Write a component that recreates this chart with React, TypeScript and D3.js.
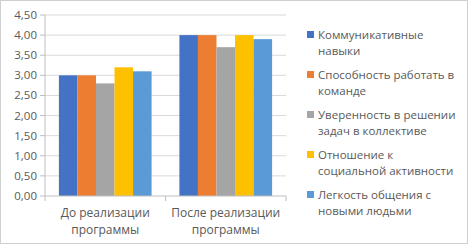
import React from "react";
import * as d3 from "d3";

const categories = [["До реализации", "программы"], ["После реализации", "программы"]];
const seriesNames = [
  ["Коммуникативные", "навыки"],
  ["Способность работать в", "команде"],
  ["Уверенность в решении", "задач в коллективе"],
  ["Отношение к", "социальной активности"],
  ["Легкость общения с", "новыми людьми"],
];
const seriesValues = [
  [3.0, 4.0],
  [3.0, 4.0],
  [2.8, 3.7],
  [3.2, 4.0],
  [3.1, 3.9],
];
const colors = ["#4472C4", "#ED7D31", "#A5A5A5", "#FFC000", "#5B9BD5"];
const yTicks = [0, 0.5, 1, 1.5, 2, 2.5, 3, 3.5, 4, 4.5];

const W = 470, H = 246;
const left = 45, right = 286, top = 15, bottom = 196;
const font = "'Open Sans', sans-serif";
const textColor = "#595959";

export default function App() {
  const y = d3.scaleLinear().domain([0, 4.5]).range([bottom, top]);
  const x0 = d3.scaleBand().domain(categories.map((_, i) => String(i))).range([left, right]);
  const bw = x0.bandwidth();
  const barW = bw / (5 + 1.5);
  const x1 = d3.scaleBand().domain(seriesNames.map((_, i) => String(i))).range([0.75 * barW, bw - 0.75 * barW]);
  const fmt = (v: number) => v.toFixed(2).replace(".", ",");
  return (
    <svg width={W} height={H} style={{ position: "absolute", left: 0, top: 0 }}>
      <rect x={0.5} y={0.5} width={467} height={243} fill="#fff" stroke="#d0d0d0" />
      {yTicks.map((t) => (
        <g key={t}>
          {t > 0 && <line x1={left} x2={right} y1={y(t)} y2={y(t)} stroke="#d9d9d9" />}
          <line x1={left - 5} x2={left} y1={y(t)} y2={y(t)} stroke="#bfbfbf" />
          <text x={37} y={y(t)} dy="0.35em" textAnchor="end" fontFamily={font} fontSize={11.5} fill={textColor}>
            {fmt(t)}
          </text>
        </g>
      ))}
      <line x1={left} x2={left} y1={top} y2={bottom} stroke="#bfbfbf" />
      {seriesValues.map((vals, s) =>
        vals.map((v, c) => (
          <rect
            key={s + "-" + c}
            x={(x0(String(c)) as number) + (x1(String(s)) as number)}
            y={y(v)}
            width={x1.bandwidth()}
            height={y(0) - y(v)}
            fill={colors[s]}
          />
        ))
      )}
      <line x1={left} x2={right} y1={bottom} y2={bottom} stroke="#bfbfbf" />
      {[0, 1, 2].map((i) => (
        <line key={i} x1={left + i * bw} x2={left + i * bw} y1={bottom} y2={bottom + 5} stroke="#bfbfbf" />
      ))}
      {categories.map((lines, c) => (
        <text key={c} textAnchor="middle" fontFamily={font} fontSize={12} fill={textColor}>
          {lines.map((l, k) => (
            <tspan key={k} x={(x0(String(c)) as number) + bw / 2} y={217 + k * 17}>
              {l}
            </tspan>
          ))}
        </text>
      ))}
      {seriesNames.map((lines, s) => (
        <g key={s}>
          <rect x={307} y={31 + s * 40} width={7} height={7} fill={colors[s]} />
          <text fontFamily={font} fontSize={11.5} fill={textColor}>
            {lines.map((l, k) => (
              <tspan key={k} x={318} y={39 + s * 40 + k * 16}>
                {l}
              </tspan>
            ))}
          </text>
        </g>
      ))}
    </svg>
  );
}
